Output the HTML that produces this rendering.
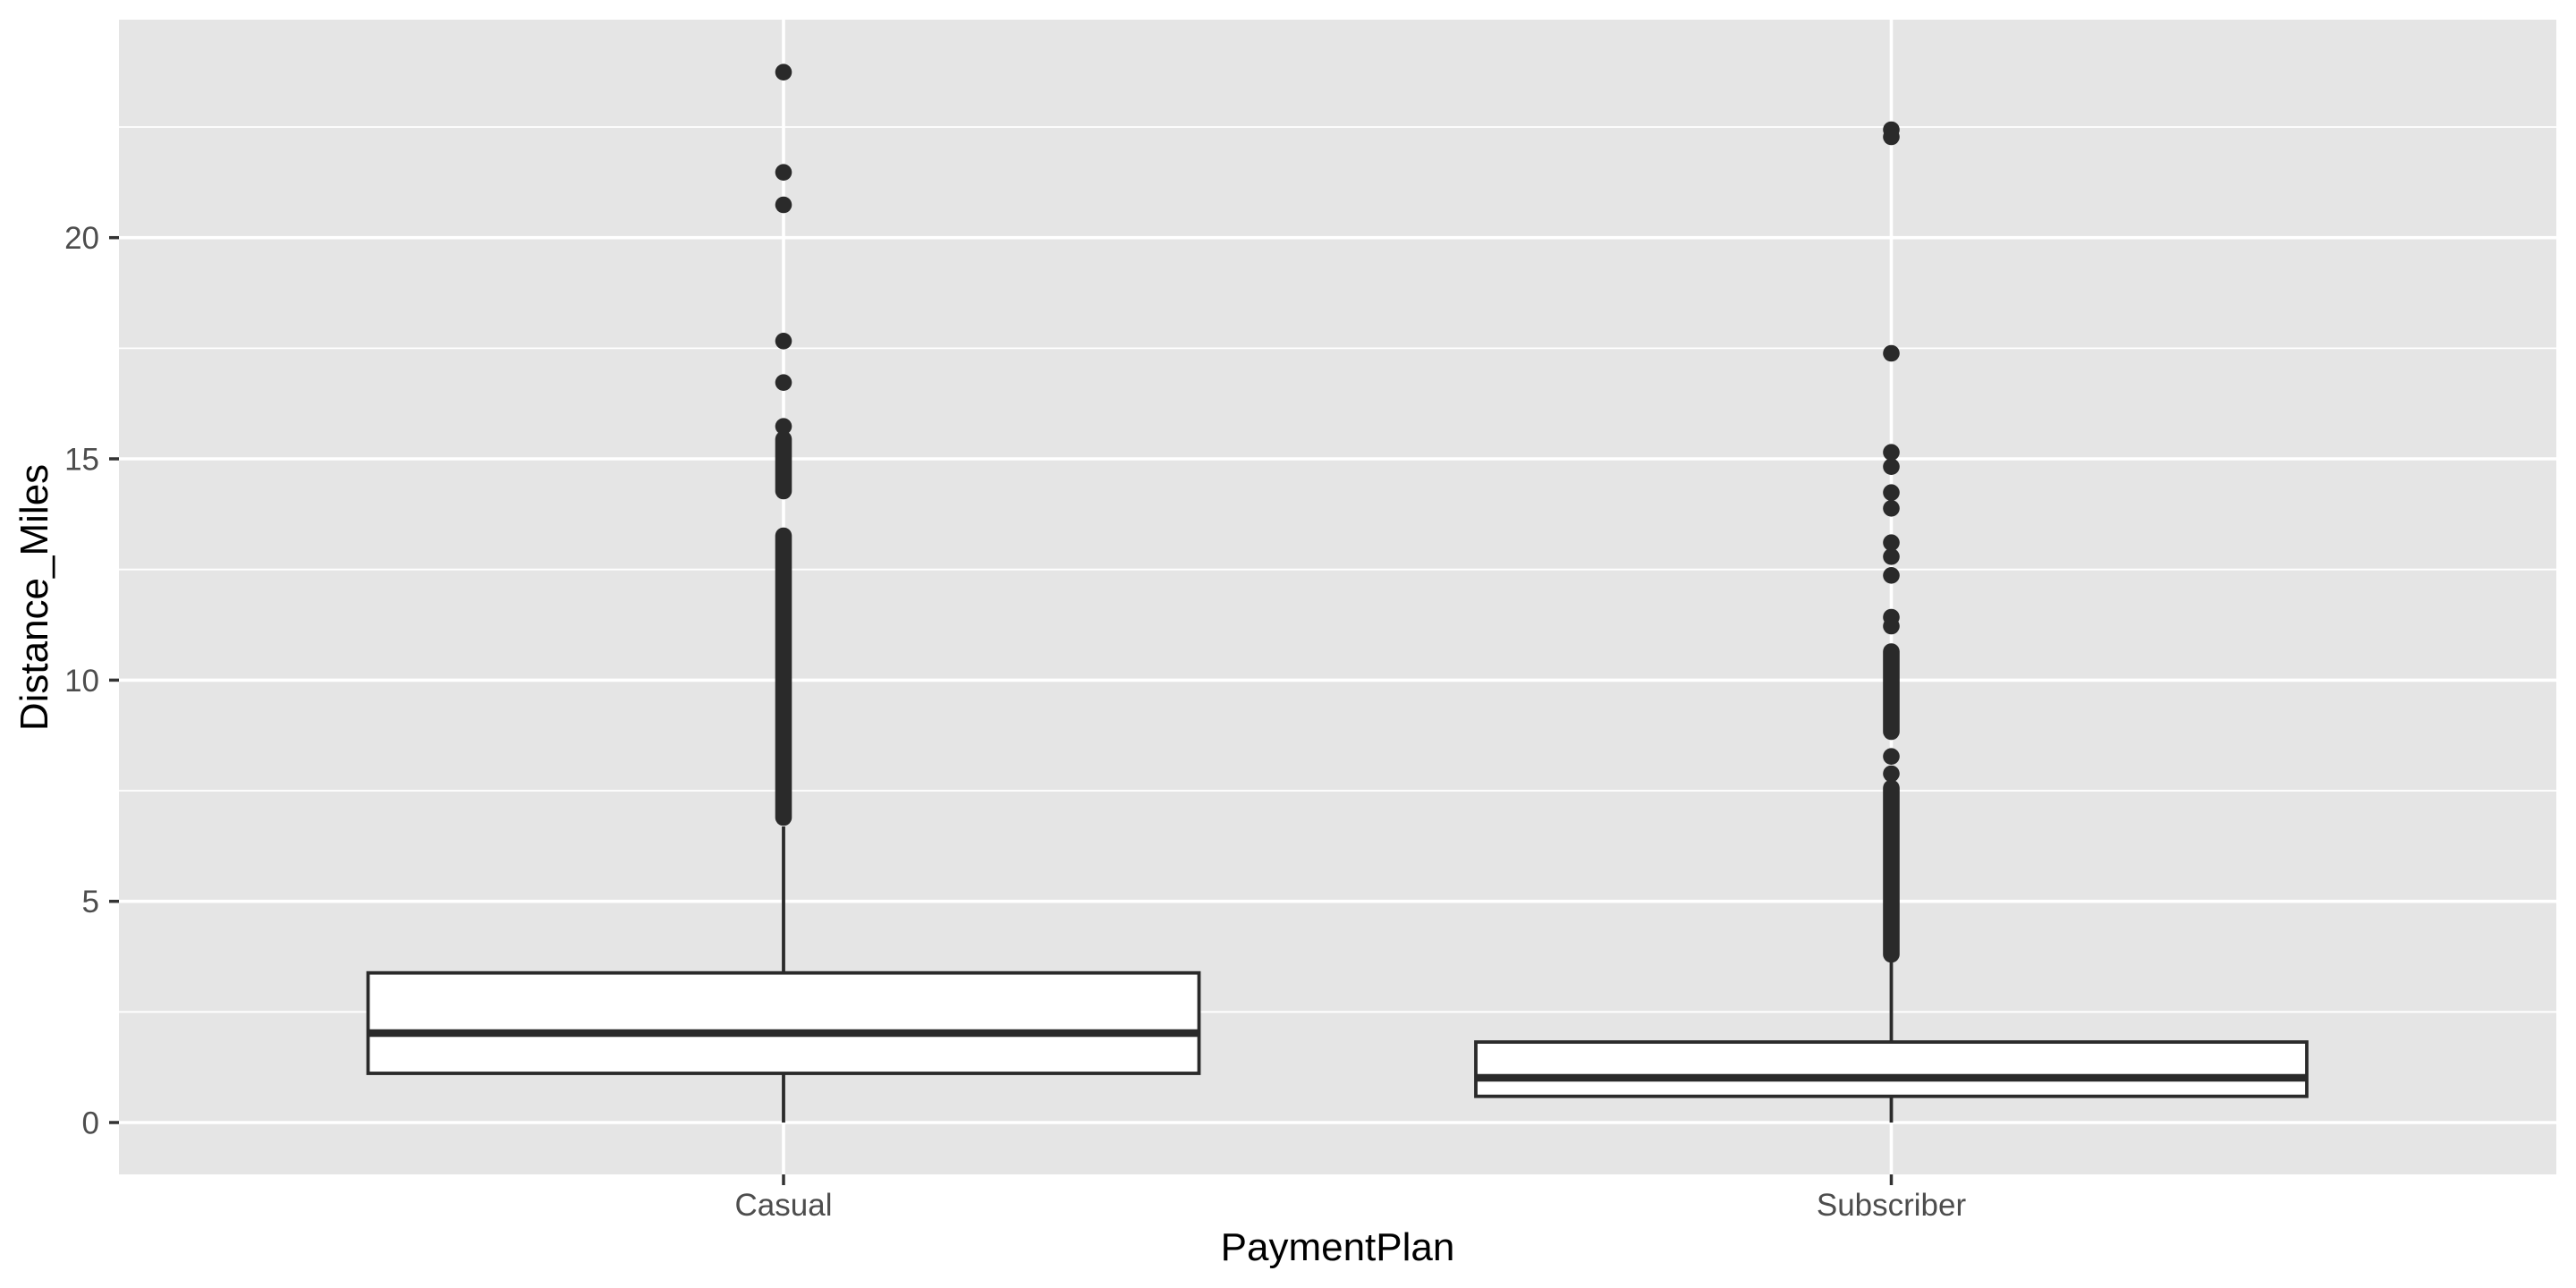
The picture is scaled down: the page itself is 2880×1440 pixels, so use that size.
<!DOCTYPE html>
<html>
<head>
<meta charset="utf-8">
<style>
  html, body { margin: 0; padding: 0; background: #ffffff; }
  body { width: 2880px; height: 1440px; overflow: hidden; }
  svg { display: block; }
  text { font-family: "Liberation Sans", Arial, sans-serif; }
</style>
</head>
<body>
<svg width="2880" height="1440" viewBox="0 0 2880 1440" xmlns="http://www.w3.org/2000/svg">
  <rect x="0" y="0" width="2880" height="1440" fill="#ffffff"/>
  <!-- panel -->
  <rect x="133" y="22" width="2725" height="1291" fill="#E5E5E5"/>
  <!-- minor gridlines -->
  <g stroke="#ffffff" stroke-width="1.8">
    <line x1="133" x2="2858" y1="1131.3" y2="1131.3"/>
    <line x1="133" x2="2858" y1="884" y2="884"/>
    <line x1="133" x2="2858" y1="636.7" y2="636.7"/>
    <line x1="133" x2="2858" y1="389.4" y2="389.4"/>
    <line x1="133" x2="2858" y1="142" y2="142"/>
  </g>
  <!-- major gridlines -->
  <g stroke="#ffffff" stroke-width="3.6">
    <line x1="133" x2="2858" y1="1255" y2="1255"/>
    <line x1="133" x2="2858" y1="1007.7" y2="1007.7"/>
    <line x1="133" x2="2858" y1="760.4" y2="760.4"/>
    <line x1="133" x2="2858" y1="513" y2="513"/>
    <line x1="133" x2="2858" y1="265.7" y2="265.7"/>
    <line x1="876" x2="876" y1="22" y2="1313"/>
    <line x1="2114.5" x2="2114.5" y1="22" y2="1313"/>
  </g>

  <!-- Casual boxplot -->
  <g stroke="#2a2a2a" fill="none" stroke-width="3.8">
    <line x1="876" x2="876" y1="924" y2="1087.7"/>
    <line x1="876" x2="876" y1="1200" y2="1255"/>
  </g>
  <rect x="411.5" y="1087.7" width="929" height="112.3" fill="#ffffff" stroke="#2a2a2a" stroke-width="3.8"/>
  <line x1="411.5" x2="1340.5" y1="1155" y2="1155" stroke="#2a2a2a" stroke-width="8.5"/>

  <!-- Casual outliers -->
  <g fill="#2a2a2a">
    <circle cx="876" cy="80.7" r="9.3"/>
    <circle cx="876" cy="192.7" r="9.3"/>
    <circle cx="876" cy="229" r="9.3"/>
    <circle cx="876" cy="381.3" r="9.3"/>
    <circle cx="876" cy="427.7" r="9.3"/>
    <circle cx="876" cy="476.7" r="9.3"/>
  </g>
  <g stroke="#2a2a2a" stroke-width="18.6" stroke-linecap="round">
    <line x1="876" x2="876" y1="491" y2="549"/>
    <line x1="876" x2="876" y1="599" y2="914"/>
  </g>

  <!-- Subscriber boxplot -->
  <g stroke="#2a2a2a" fill="none" stroke-width="3.8">
    <line x1="2114.5" x2="2114.5" y1="1067" y2="1165"/>
    <line x1="2114.5" x2="2114.5" y1="1225.7" y2="1255"/>
  </g>
  <rect x="1650" y="1165" width="929" height="60.7" fill="#ffffff" stroke="#2a2a2a" stroke-width="3.8"/>
  <line x1="1650" x2="2579" y1="1205" y2="1205" stroke="#2a2a2a" stroke-width="8.5"/>

  <!-- Subscriber outliers -->
  <g fill="#2a2a2a">
    <circle cx="2114.5" cy="145" r="9.3"/>
    <circle cx="2114.5" cy="153" r="9.3"/>
    <circle cx="2114.5" cy="395" r="9.3"/>
    <circle cx="2114.5" cy="505.7" r="9.3"/>
    <circle cx="2114.5" cy="521.7" r="9.3"/>
    <circle cx="2114.5" cy="550.7" r="9.3"/>
    <circle cx="2114.5" cy="568.3" r="9.3"/>
    <circle cx="2114.5" cy="606.7" r="9.3"/>
    <circle cx="2114.5" cy="622.3" r="9.3"/>
    <circle cx="2114.5" cy="643.3" r="9.3"/>
    <circle cx="2114.5" cy="690" r="9.3"/>
    <circle cx="2114.5" cy="700" r="9.3"/>
    <circle cx="2114.5" cy="845.7" r="9.3"/>
    <circle cx="2114.5" cy="865" r="9.3"/>
  </g>
  <g stroke="#2a2a2a" stroke-width="18.6" stroke-linecap="round">
    <line x1="2114.5" x2="2114.5" y1="728.5" y2="818"/>
    <line x1="2114.5" x2="2114.5" y1="881" y2="1067"/>
  </g>

  <!-- axis ticks -->
  <g stroke="#333333" stroke-width="3.5">
    <line x1="122" x2="133" y1="1255" y2="1255"/>
    <line x1="122" x2="133" y1="1007.7" y2="1007.7"/>
    <line x1="122" x2="133" y1="760.4" y2="760.4"/>
    <line x1="122" x2="133" y1="513" y2="513"/>
    <line x1="122" x2="133" y1="265.7" y2="265.7"/>
    <line x1="876" x2="876" y1="1313" y2="1325"/>
    <line x1="2114.5" x2="2114.5" y1="1313" y2="1325"/>
  </g>

  <!-- y tick labels -->
  <g fill="#4D4D4D" font-size="35" text-anchor="end">
    <text x="111" y="1267.5">0</text>
    <text x="111" y="1020.2">5</text>
    <text x="111" y="772.9">10</text>
    <text x="111" y="525.5">15</text>
    <text x="111" y="278.2">20</text>
  </g>
  <!-- x tick labels -->
  <g fill="#4D4D4D" font-size="35" text-anchor="middle">
    <text x="876" y="1359">Casual</text>
    <text x="2114.5" y="1359">Subscriber</text>
  </g>

  <!-- axis titles -->
  <text x="1495.5" y="1409" font-size="44" fill="#000000" text-anchor="middle">PaymentPlan</text>
  <text transform="translate(53,668) rotate(-90)" x="0" y="0" font-size="44" fill="#000000" text-anchor="middle">Distance_Miles</text>
</svg>
</body>
</html>
